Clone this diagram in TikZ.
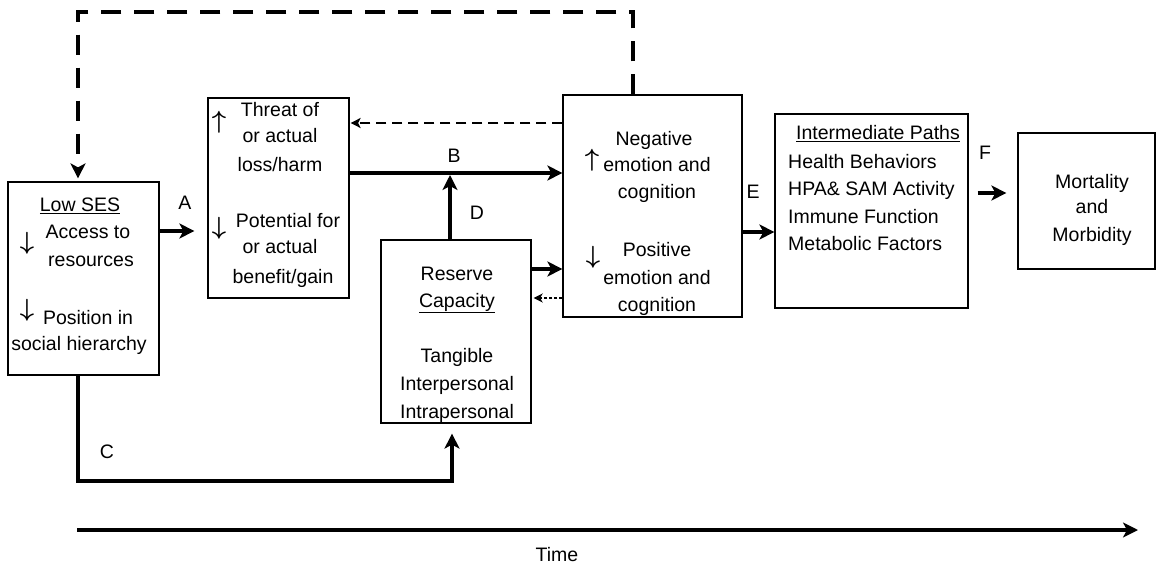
\documentclass[tikz,border=0pt]{standalone}
\usepackage{fontspec}
\setmainfont{Liberation Sans}
\usetikzlibrary{arrows.meta,calc}
\tikzset{
  box/.style={draw, line width=1.2pt, inner sep=0pt, minimum width=#1},
  txt/.style={font=\fontsize{19.5}{24}\selectfont, inner sep=0pt, anchor=base},
  txtl/.style={txt, anchor=base west},
  sym/.style={font=\fontsize{28}{28}\selectfont\boldmath, inner sep=0pt, anchor=center},
  lbl/.style={font=\fontsize{19.5}{24}\selectfont, inner sep=0pt, anchor=center},
  bigarrow/.style={line width=4.5pt, -{Stealth[length=15pt,width=15pt,inset=4pt]}},
  bigdash/.style={line width=4.5pt, dash pattern=on 20pt off 13pt, -{Stealth[length=15pt,width=15pt,inset=4pt]}},
  thindash/.style={line width=2pt, dash pattern=on 10pt off 6pt, -{Stealth[length=10pt,width=10pt,inset=2.5pt]}},
  dotarrow/.style={line width=2pt, dash pattern=on 3pt off 2pt, -{Stealth[length=9pt,width=9pt,inset=2.5pt]}}
}
\begin{document}
\begin{tikzpicture}[x=1pt,y=-1pt]
\useasboundingbox (0,0) rectangle (1158,569);
% boxes
\node[box=151, minimum height=193] (ses) at (83.5,278.5) {};
\node[box=141, minimum height=200] (threat) at (278.5,198) {};
\node[box=179, minimum height=222] (neg) at (652.5,206) {};
\node[box=150, minimum height=183] (res) at (456,331.5) {};
\node[box=193, minimum height=194] (inter) at (871.5,211) {};
\node[box=137, minimum height=136] (mort) at (1086.5,201) {};
% Low SES texts
\node[txt] (s1) at (80,212) {\underline{Low SES}};
\node[sym] (s2) at (27,243) {$\downarrow$};
\node[txt] (s3) at (88,239) {Access to};
\node[txt] (s4) at (91,266) {resources};
\node[sym] (s5) at (27,310) {$\downarrow$};
\node[txt] (s6) at (88,324) {Position in};
\node[txt] (s7) at (79,350) {social hierarchy};
% threat texts
\node[sym] (t1) at (219,122) {$\uparrow$};
\node[txt] (t2) at (280,117) {Threat of};
\node[txt] (t3) at (280,143) {or actual};
\node[txt] (t4) at (280,172) {loss/harm};
\node[sym] (t5) at (219,228) {$\downarrow$};
\node[txt] (t6) at (288,228) {Potential for};
\node[txt] (t7) at (280,254) {or actual};
\node[txt] (t8) at (283,283) {benefit/gain};
% negative texts
\node[txt] (n1) at (654,146) {Negative};
\node[sym] (n2) at (592,160) {$\uparrow$};
\node[txt] (n3) at (657,172) {emotion and};
\node[txt] (n4) at (657,199) {cognition};
\node[sym] (n5) at (593,257) {$\downarrow$};
\node[txt] (n6) at (657,257) {Positive};
\node[txt] (n7) at (657,284) {emotion and};
\node[txt] (n8) at (657,311) {cognition};
% reserve texts
\node[txt] (r1) at (457,280) {Reserve};
\node[txt] (r2) at (457,307) {\underline{Capacity}};
\node[txt] (r3) at (457,362) {Tangible};
\node[txt] (r4) at (457,390) {Interpersonal};
\node[txt] (r5) at (457,418) {Intrapersonal};
% intermediate texts
\node[txt] (i1) at (878,140) {\underline{Intermediate Paths}};
\node[txtl] (i2) at (788,169) {Health Behaviors};
\node[txtl] (i3) at (788,196) {HPA\& SAM Activity};
\node[txtl] (i4) at (788,224) {Immune Function};
\node[txtl] (i5) at (788,251) {Metabolic Factors};
% mortality texts
\node[txt] (m1) at (1092,189) {Mortality};
\node[txt] (m2) at (1092,214) {and};
\node[txt] (m3) at (1092,242) {Morbidity};
% labels
\node[lbl] (la) at (185,203) {A};
\node[lbl] (lb) at (454,156) {B};
\node[lbl] (lc) at (107,452) {C};
\node[lbl] (ld) at (477,213) {D};
\node[lbl] (le) at (753,192) {E};
\node[lbl] (lf) at (985,153) {F};
\node[lbl] (time) at (557,555) {Time};
% coordinates
\coordinate (bjoin) at (450,175);
\coordinate (topc) at (78,12);
\coordinate (cC) at (452,481);
\coordinate (t0) at (77,530);
\coordinate (tend) at (1138,530);
% connectors
\draw[bigarrow, shorten >=13pt] ([yshift=47.5pt]ses.east) -- ([yshift=-33pt]threat.west);
\draw[bigarrow] ([yshift=25pt]threat.east) -- ([yshift=33pt]neg.west);
\draw[bigarrow] ([xshift=-6pt]res.north) -- (bjoin);
\draw[thindash, shorten >=1pt] ([yshift=83pt]neg.west) -- ([yshift=75pt]threat.east);
\draw[bigarrow] ([yshift=62.5pt]res.east) -- ([yshift=-63pt]neg.west);
\draw[dotarrow, shorten >=2pt] ([yshift=-92pt]neg.west) -- ([yshift=33.5pt]res.east);
\draw[bigarrow] ([yshift=-26pt]neg.east) -- ([yshift=-21pt]inter.west);
\draw[bigarrow, shorten <=9pt, shorten >=11pt] ([yshift=18pt]inter.east) -- ([yshift=8pt]mort.west);
\draw[bigdash, shorten >=3pt] ([xshift=-19.5pt]neg.north) |- (topc) -- ([xshift=-5.5pt]ses.north);
\draw[bigarrow, shorten >=10pt] ([xshift=-5.5pt]ses.south) |- (cC) -- ([xshift=-4pt]res.south);
\draw[bigarrow] (t0) -- (tend);
\end{tikzpicture}
\end{document}
